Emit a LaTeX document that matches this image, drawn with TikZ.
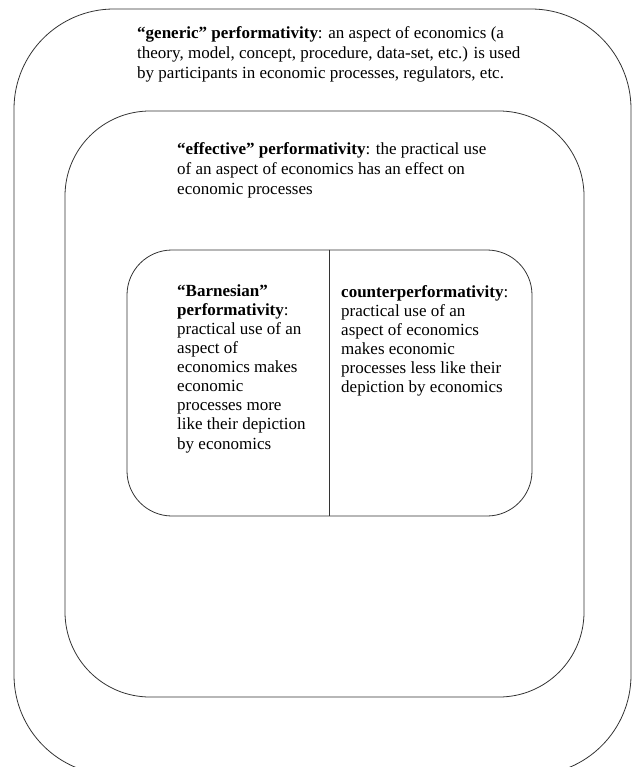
\documentclass[tikz,border=0pt]{standalone}
\usepackage{fontspec}
\setmainfont{Liberation Serif}
\usetikzlibrary{positioning}
\tikzset{
  nested/.style={
    x=1pt, y=-1pt,
    frame/.style={
        draw=black!80,
        line width=0.8pt,
        shape=rectangle,
        inner sep=0pt,
    },
    blurb/.style={
        anchor=north west,
        align=left,
        inner sep=0pt,
        font=\fontsize{17}{20}\selectfont,
    },
    cell/.style={
        blurb,
        font=\fontsize{17}{19}\selectfont,
    },
  }
}

\begin{document}
\begin{tikzpicture}[nested]
    \useasboundingbox (0,0) rectangle (633,767);
    % nested frames
    \node[frame, rounded corners=100pt, minimum width=617pt, minimum height=766pt] (generic) at (322.5,392) {};
    \node[frame, rounded corners=85pt, minimum width=519pt, minimum height=586pt] (effective) at (324.5,404) {};
    \node[frame, rounded corners=45pt, minimum width=405pt, minimum height=266pt] (inner) at (329.5,383) {};
    \draw[draw=black!80, line width=0.8pt] (inner.north) -- (inner.south);
    % texts
    \node[blurb] (generictext) at (137,26) {\textbf{“generic” performativity}: an aspect of economics (a\\
        theory, model, concept, procedure, data-set, etc.) is used\\
        by participants in economic processes, regulators, etc.};
    \node[blurb] (effectivetext) at (177,142) {\textbf{“effective” performativity}: the practical use\\
        of an aspect of economics has an effect on\\
        economic processes};
    \node[cell] (barnesian) at (177,285) {\textbf{“Barnesian”}\\
        \textbf{performativity}:\\
        practical use of an\\
        aspect of\\
        economics makes\\
        economic\\
        processes more\\
        like their depiction\\
        by economics};
    \node[cell] (counter) at (341,285) {\textbf{counterperformativity}:\\
        practical use of an\\
        aspect of economics\\
        makes economic\\
        processes less like their\\
        depiction by economics};
\end{tikzpicture}
\end{document}
